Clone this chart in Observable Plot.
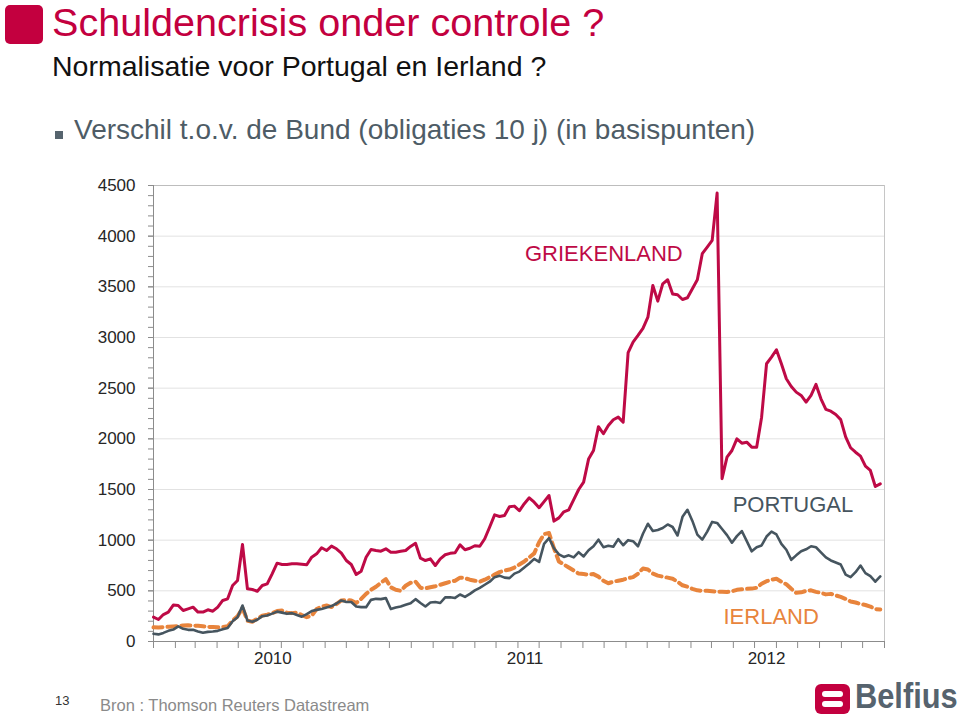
<!DOCTYPE html>
<html><head><meta charset="utf-8">
<script src="https://cdn.jsdelivr.net/npm/d3@7"></script>
<script src="https://cdn.jsdelivr.net/npm/@observablehq/plot@0.6"></script>
<style>
body{margin:0;background:#fff;font-family:"Liberation Sans",Arial,sans-serif;}
#page{position:relative;width:960px;height:716px;overflow:hidden;background:#fff;}
.abs{position:absolute;white-space:nowrap;line-height:1;}
#sq{left:5px;top:5px;width:38px;height:39px;background:#C3003F;border-radius:5px;}
#title{left:52px;top:3px;font-size:39.6px;color:#C3003F;}
#subtitle{left:52px;top:52px;font-size:28.5px;color:#111;}
#bullet{left:55px;top:131px;width:8px;height:8px;background:#56646E;}
#bullettext{left:74px;top:116px;font-size:28px;color:#4E5C66;}
#chart{position:absolute;left:0;top:160px;}
#pnum{left:55px;top:694px;font-size:13px;color:#333;}
#source{left:100px;top:697px;font-size:16.5px;color:#8A8A8A;}
#logosq{left:815px;top:684px;width:35px;height:30px;background:#C3003F;border-radius:6px;}
.bar{position:absolute;left:7px;width:21px;height:6px;background:#fff;border-radius:3px;}
#logotext{left:855px;top:678px;font-size:35px;font-weight:bold;color:#56636E;transform:scaleX(0.88);transform-origin:0 0;}
</style></head><body>
<div id="page">
  <div id="sq" class="abs"></div>
  <div id="title" class="abs">Schuldencrisis onder controle ?</div>
  <div id="subtitle" class="abs">Normalisatie voor Portugal en Ierland ?</div>
  <div id="bullet" class="abs"></div>
  <div id="bullettext" class="abs">Verschil t.o.v. de Bund (obligaties 10 j) (in basispunten)</div>
  <div id="chart"></div>
  <div id="pnum" class="abs">13</div>
  <div id="source" class="abs">Bron : Thomson Reuters Datastream</div>
  <div id="logosq" class="abs"><div class="bar" style="top:7px"></div><div class="bar" style="top:17px"></div></div>
  <div id="logotext" class="abs">Belfius</div>
</div>
<script>
// Weekly observations starting 2010-01-01 (spread vs Bund, basis points)
const greece = [
240,217,266,290,360,355,306,322,339,290,
290,313,299,340,405,421,553,602,957,520,
513,496,553,569,668,773,760,760,767,767,
762,757,832,865,925,898,941,915,872,799,
760,661,694,832,908,898,891,915,881,881,
890,898,938,970,822,799,816,750,816,856,
870,875,954,905,920,945,940,1014,1130,1250,
1234,1244,1330,1336,1290,1360,1418,1375,1320,1380,
1441,1188,1220,1280,1300,1400,1500,1573,1800,1885,
2120,2050,2132,2188,2214,2165,2850,2954,3020,3090,
3200,3514,3359,3530,3570,3430,3422,3375,3392,3481,
3570,3827,3892,3958,4425,1606,1819,1885,2000,1957,
1967,1918,1918,2214,2741,2806,2879,2741,2593,2517,
2461,2428,2362,2428,2537,2395,2290,2273,2240,2190,
2020,1912,1868,1830,1730,1688,1530,1556];
const portugal = [
76,70,85,105,118,150,125,115,115,99,
86,95,99,105,120,133,200,240,355,207,
195,214,250,257,275,295,285,273,280,262,
245,270,300,312,320,335,350,375,405,390,
390,345,339,339,411,421,418,428,320,335,
345,362,378,418,380,345,385,390,380,435,
437,430,464,440,470,505,530,560,590,635,
650,630,625,670,690,730,770,815,785,964,
1020,920,860,835,850,830,881,840,900,940,
1005,931,945,935,1010,950,1000,990,940,1063,
1162,1090,1100,1120,1155,1130,1046,1230,1300,1190,
1055,1005,1085,1180,1170,1110,1050,975,1040,1090,
990,890,931,948,1036,1085,1056,964,905,806,
850,890,910,940,930,880,830,800,780,760,
660,635,684,750,675,645,590,642];
const ireland = [
140,138,142,145,148,150,158,160,158,155,
150,145,142,140,142,150,207,250,330,205,
195,225,255,265,280,300,305,285,280,285,
260,240,255,320,345,355,340,370,405,410,
405,380,420,470,510,540,580,615,535,510,
500,550,580,590,530,525,535,545,560,575,
590,600,630,625,610,600,590,610,635,660,
685,700,710,730,760,790,830,870,980,1060,
1070,920,790,760,730,700,670,665,660,665,
640,600,575,590,600,610,625,635,670,720,
710,670,650,640,630,620,590,555,540,520,
505,500,500,495,490,490,488,495,510,515,
520,522,530,570,595,610,619,590,565,520,
480,485,500,505,490,480,465,470,455,440,
420,395,385,370,360,345,320,315];

const yearLabels = ["2010", "2011", "2012"];
const yearLabelDates = ["2010-06-19", "2011-06-11", "2012-05-18"];
const yTicks = [0, 500, 1000, 1500, 2000, 2500, 3000, 3500, 4000, 4500];
const seriesLabels = [
  {name: "GRIEKENLAND", date: "2011-06-11", value: 3820},
  {name: "PORTUGAL", date: "2012-03-31", value: 1352},
  {name: "IERLAND", date: "2012-03-18", value: 247}
];
const colors = {GRIEKENLAND: "#BE0A46", PORTUGAL: "#46555F", IERLAND: "#E8843C"};

const start = new Date(Date.UTC(2010, 0, 1));
const end = new Date(Date.UTC(2012, 10, 1));
const weeks = greece.map((_, i) => d3.utcDay.offset(start, 7 * i));
const rows = weeks.map((date, i) => ({date, greece: greece[i], portugal: portugal[i], ireland: ireland[i]}));
const labelDates = yearLabelDates.map(s => new Date(s + "T00:00:00Z"));
const labelOf = new Map(labelDates.map((d, i) => [+d, yearLabels[i]]));
const lbls = seriesLabels.map(d => ({...d, date: new Date(d.date + "T00:00:00Z")}));

const chart = Plot.plot({
  width: 960, height: 520,
  marginLeft: 153, marginRight: 76, marginTop: 25, marginBottom: 39,
  style: {fontFamily: "'Liberation Sans', Arial, sans-serif", fontSize: "17px", color: "#262626", background: "transparent", overflow: "visible"},
  x: {type: "utc", domain: [start, end]},
  y: {domain: [0, 4500]},
  marks: [
    Plot.ruleY(yTicks.filter(v => v > 0 && v < 4500), {stroke: "#E2E2E2", strokeWidth: 1}),
    Plot.ruleY([4500], {stroke: "#BDBDBD"}),
    Plot.ruleX([end], {stroke: "#C6C6C6"}),
    Plot.axisY({ticks: d3.range(0, 4501, 100), tickSize: 5, tickFormat: () => "", stroke: "#8C8C8C", label: null}),
    Plot.axisY({ticks: yTicks, tickSize: 5, tickPadding: 13, tickFormat: d => String(d), stroke: "#8C8C8C", fill: "#262626", label: null}),
    Plot.axisX({ticks: d3.utcMonth.range(start, d3.utcDay.offset(end, 1)), tickSize: 7, tickFormat: () => "", stroke: "#8C8C8C", label: null}),
    Plot.axisX({ticks: labelDates, tickSize: 0, tickPadding: 10, tickFormat: d => labelOf.get(+d), fill: "#262626", label: null}),
    Plot.ruleX([start], {stroke: "#8C8C8C"}),
    Plot.ruleY([0], {stroke: "#8C8C8C"}),
    Plot.line(rows, {x: "date", y: "ireland", stroke: colors.IERLAND, strokeWidth: 4, strokeDasharray: "9,5"}),
    Plot.line(rows, {x: "date", y: "portugal", stroke: colors.PORTUGAL, strokeWidth: 2.6}),
    Plot.line(rows, {x: "date", y: "greece", stroke: colors.GRIEKENLAND, strokeWidth: 3}),
    ...lbls.map(d => Plot.text([d], {x: "date", y: "value", text: "name", textAnchor: "start", fontSize: 22, fill: colors[d.name]}))
  ]
});
document.getElementById("chart").appendChild(chart);
</script>
</body></html>
